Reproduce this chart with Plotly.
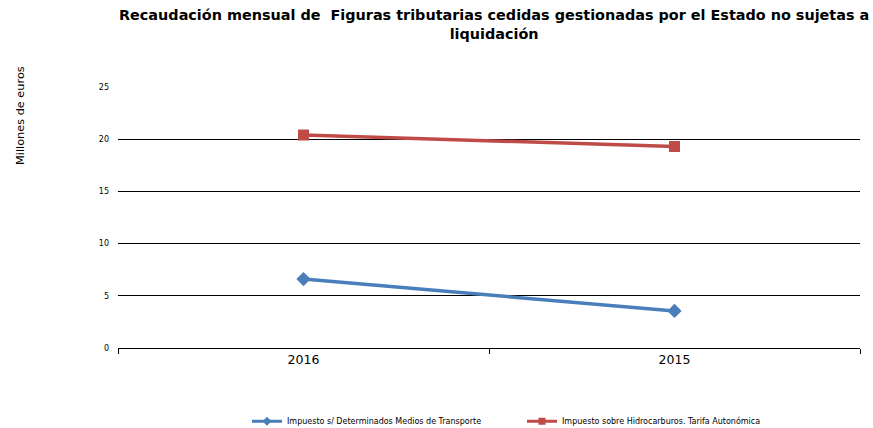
import plotly.graph_objects as go

years = ["2016", "2015"]
transporte = [6.6, 3.55]
hidrocarburos = [20.4, 19.3]
y_ticks = [0, 5, 10, 15, 20, 25]

names = ["Impuesto s/ Determinados Medios de Transporte",
         "Impuesto sobre Hidrocarburos. Tarifa Autonómica"]
colors = ["#4A7EBB", "#BE4B48"]
symbols = ["diamond", "square"]

FONT = "DejaVu Sans, Liberation Sans, Arial, sans-serif"

fig = go.Figure()
for vals, name, col, sym in zip([transporte, hidrocarburos], names, colors, symbols):
    fig.add_trace(go.Scatter(
        x=years, y=vals, mode="lines+markers", name=name, showlegend=False,
        line=dict(color=col, width=3.5),
        marker=dict(symbol=sym, size=11, color=col),
    ))
    # legend-only entry with the smaller legend symbol
    fig.add_trace(go.Scatter(
        x=[None], y=[None], mode="lines+markers", name=name,
        line=dict(color=col, width=3),
        marker=dict(symbol=sym, size=7, color=col),
    ))

fig.update_layout(
    width=873, height=428,
    margin=dict(l=118, r=13, t=87, b=80, autoexpand=False),
    paper_bgcolor="white", plot_bgcolor="white",
    font=dict(family=FONT, color="#000"),
    showlegend=True,
    legend=dict(
        orientation="h", x=(247 - 118) / 742, xanchor="left",
        y=-0.225, yanchor="top",
        font=dict(size=8, color="#000"), itemwidth=30,
        entrywidth=230, entrywidthmode="pixels",
        tracegroupgap=0,
    ),
    xaxis=dict(
        type="category", range=[-0.5, 1.5],
        tickson="boundaries", ticks="outside", ticklen=5, tickcolor="#000",
        showgrid=False, showline=True, linecolor="#000", linewidth=1,
        tickfont=dict(size=12.5, color="#000"), zeroline=False,
    ),
    yaxis=dict(
        range=[0, 25], tickvals=y_ticks, ticks="",
        showgrid=True, gridcolor="#000", gridwidth=1,
        showline=False, zeroline=False,
        tickfont=dict(size=8, color="#000"), ticklabelstandoff=8,
    ),
    annotations=[
        dict(
            text="<b>Recaudación mensual de  Figuras tributarias cedidas gestionadas por el Estado no sujetas a<br>liquidación</b>",
            xref="paper", yref="paper",
            x=(494 - 118) / 742, y=(348 - 5) / 261,
            xanchor="center", yanchor="top", showarrow=False,
            font=dict(size=14.4, color="#000"),
        ),
        dict(
            text="Millones de euros", textangle=-90,
            xref="paper", yref="paper",
            x=(20 - 118) / 742, y=(348 - 116) / 261,
            xanchor="center", yanchor="middle", showarrow=False,
            font=dict(size=11.3, color="#000"),
        ),
    ],
)

fig.write_html("out.html", config={"displayModeBar": False},
               post_script="document.body.style.margin='0';")
